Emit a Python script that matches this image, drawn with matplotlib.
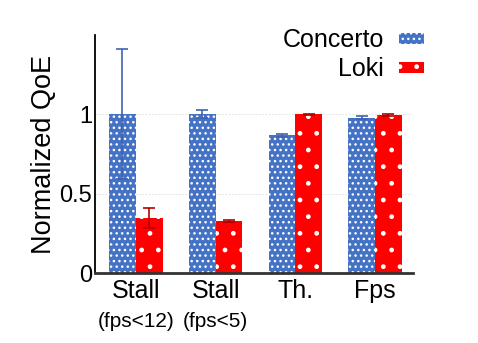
import numpy as np
import matplotlib
matplotlib.use("Agg")
import matplotlib.pyplot as plt

plt.rcParams["font.family"] = ["Liberation Sans", "DejaVu Sans"]
plt.rcParams["hatch.linewidth"] = 1.0

# Data
groups = ["Stall", "Stall", "Th.", "Fps"]
sub_labels = ["(fps<12)", "(fps<5)", "", ""]
concerto = [1.0, 1.0, 0.868, 0.98]
concerto_err = [0.41, 0.025, 0.008, 0.008]
loki = [0.346, 0.327, 1.0, 0.995]
loki_err = [0.065, 0.008, 0.002, 0.008]

blue = "#4472C4"
red = "#FF0000"

x = np.arange(len(groups))
w = 0.335

fig = plt.figure(figsize = (4.78, 3.43), dpi = 100)
ax = fig.add_axes([0.199, 0.204, 0.665, 0.694])

ax.bar(x - w/2, concerto, w, color = blue, edgecolor = "white", linewidth = 0,
       hatch = "...", label = "Concerto", zorder = 2)
ax.bar(x + w/2, loki, w, color = red, edgecolor = "white", linewidth = 0,
       hatch = ".", label = "Loki", zorder = 2)

ax.errorbar(x - w/2, concerto, yerr = concerto_err, fmt = "none", ecolor = "#3F62B0",
            elinewidth = 1.2, capsize = 4, capthick = 1.2, zorder = 3)
ax.errorbar(x + w/2, loki, yerr = loki_err, fmt = "none", ecolor = "#B00000",
            elinewidth = 1.2, capsize = 4, capthick = 1.2, zorder = 3)

ax.set_xlim(-0.51, 3.475)
ax.set_ylim(0, 1.5)
ax.set_yticks([0, 0.5, 1])
ax.set_yticklabels(["0", "0.5", "1"], fontsize = 17)
ax.set_xticks(x)
ax.set_xticklabels(groups, fontsize = 18)
ax.tick_params(axis = "x", length = 0, pad = 4)
ax.tick_params(axis = "y", length = 0, pad = 2)
ax.set_ylabel("Normalized QoE", fontsize = 19.5, labelpad = 2)

for xi, s in zip(x, sub_labels):
    if s:
        ax.text(xi, -0.165, s, transform = ax.get_xaxis_transform(),
                ha = "center", va = "top", fontsize = 15)

ax.grid(axis = "y", color = "#dddddd", linestyle = (0, (2, 2)), linewidth = 0.6, zorder = 0)
ax.spines["top"].set_visible(False)
ax.spines["right"].set_visible(False)
ax.spines["left"].set_linewidth(1.3)
ax.spines["bottom"].set_linewidth(2)
ax.spines["bottom"].set_color("#333333")

ax.legend(loc = "upper right", bbox_to_anchor = (1.065, 1.07), frameon = False,
          markerfirst = False, fontsize = 18, handlelength = 1.0, handleheight = 0.3,
          handletextpad = 0.6, labelspacing = 0.2, borderaxespad = 0)

fig.savefig("out.png", dpi = 100)
